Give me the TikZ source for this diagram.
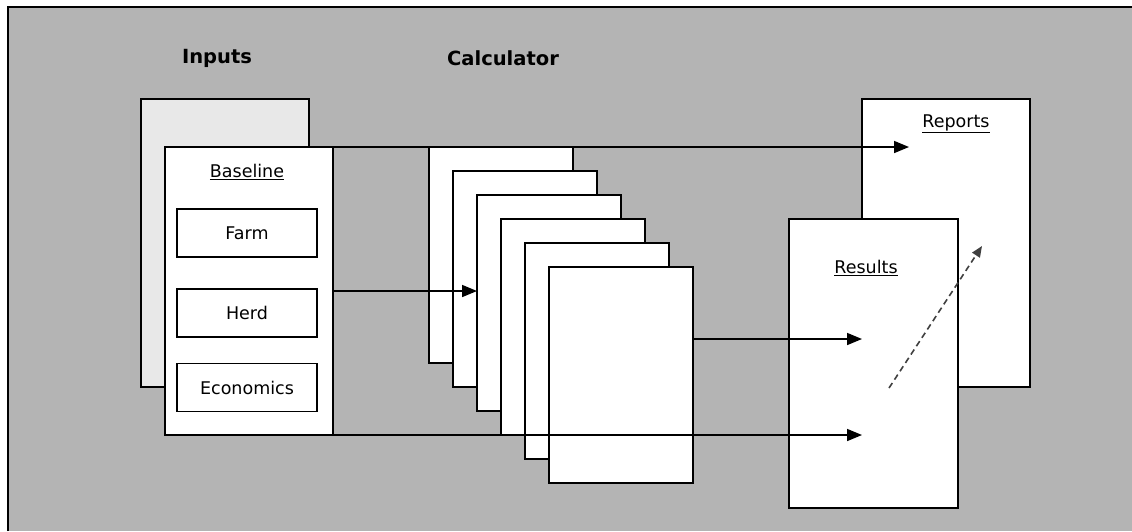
\documentclass[tikz,border=0pt]{standalone}
\usepackage{fontspec}
\setmainfont{DejaVu Sans}
\usetikzlibrary{arrows.meta}
\definecolor{bggray}{HTML}{B4B4B4}
\definecolor{backfill}{HTML}{E8E8E8}
\definecolor{dashgray}{HTML}{404040}
\begin{document}
\begin{tikzpicture}[x=1pt,y=-1pt,
  box/.style={draw=black,fill=white,line width=1.6pt,inner sep=0pt,outer sep=0pt,anchor=north west},
  page/.style={box,minimum width=144pt,minimum height=216pt},
  sub/.style={box,minimum width=140pt,minimum height=48pt,anchor=center,font=\fontsize{17.5}{20}\selectfont},
  lbl/.style={font=\fontsize{17.5}{20}\selectfont,inner sep=0pt},
  title/.style={font=\bfseries\fontsize{19.5}{22}\selectfont,inner sep=0pt},
  arr/.style={draw=black,line width=1.6pt,-{Triangle[length=15pt,width=12pt]}},
  darr/.style={draw=dashgray,line width=1.6pt,dash pattern=on 6pt off 4pt,-{Triangle[length=11pt,width=9pt]}}]
\useasboundingbox (0,0) rectangle (1132,531);
\fill[white] (0,0) rectangle (1132,531);
\fill[bggray] (8,7) rectangle (1132,531);
\draw[line width=1.8pt] (8,531) -- (8,7) -- (1132,7);
% titles
\node[title] (tin) at (217,58) {Inputs};
\node[title] (tcalc) at (503,58) {Calculator};
% inputs
\node[box,fill=backfill,minimum width=168pt,minimum height=288pt] (back) at (141,99) {};
\node[box,minimum width=168pt,minimum height=288pt] (baseline) at (165,147) {};
\node[lbl] (blabel) at (247,172) {\underline{Baseline}};
\node[sub] (farm) at (247,233) {Farm};
\node[sub] (herd) at (247,313) {Herd};
\node[sub] (econ) at (247,387.5) {Economics};
% calculator pages
\node[page] (p1) at (429,147) {};
\node[page] (p2) at (453,171) {};
\node[page] (p3) at (477,195) {};
\node[page] (p4) at (501,219) {};
\node[page] (p5) at (525,243) {};
\node[page] (p6) at (549,267) {};
% outputs
\node[box,minimum width=168pt,minimum height=288pt] (reports) at (862,99) {};
\node[lbl] (replabel) at (956,124) {\underline{Reports}};
\node[box,minimum width=169pt,minimum height=289pt] (results) at (789,219) {};
\node[lbl] (reslabel) at (866,268) {\underline{Results}};
% connector ends
\coordinate (repin) at (909,147);
\coordinate (p6out) at (693,339);
\coordinate (resin1) at (862,339);
\coordinate (resin2) at (862,435);
\coordinate (dstart) at (889,388);
\coordinate (dend) at (982,246);
% connectors
\draw[arr] (baseline.north east) -- (baseline.north east -| repin);
\draw[arr] (baseline.east) -- (baseline.east -| p3.west);
\draw[arr] (p6out) -- (resin1);
\draw[arr] (baseline.south east) -- (baseline.south east -| resin2);
\draw[darr] (dstart) -- (dend);
\end{tikzpicture}
\end{document}
